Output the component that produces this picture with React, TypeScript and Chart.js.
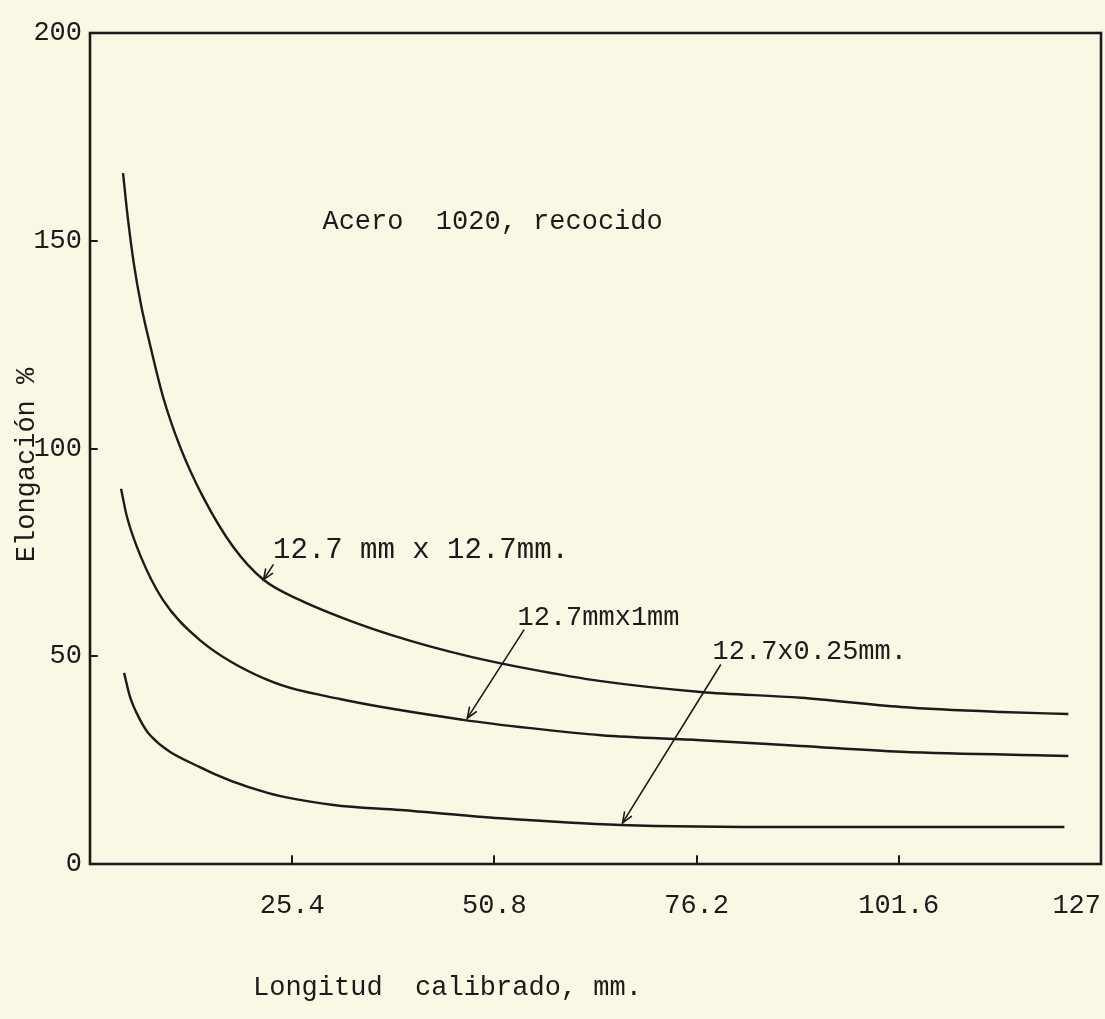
import React, { useEffect, useRef } from "react";
import { Chart, registerables } from "chart.js";

Chart.register(...registerables);

// ---------- data ----------
const xTickValues = [0, 25.4, 50.8, 76.2, 101.6, 127];
const xTickLabels = ["", "25.4", "50.8", "76.2", "101.6", "127"];
const yTickValues = [0, 50, 100, 150, 200];
const yTickLabels = ["0", "50", "100", "150", "200"];

const seriesNames = ["12.7 mm x 12.7mm.", "12.7mmx1mm", "12.7x0.25mm."];

// 12.7 mm x 12.7 mm
const xA = [4.15, 4.78, 5.53, 6.42, 7.55, 9.18, 11.32, 14.21, 18, 21.8, 26.4, 32.7, 38, 42.8, 48, 55.3, 64.2, 76.7, 89.3, 101.9, 114.5, 122.9];
const yA = [166.3, 155, 144.2, 134.5, 124.9, 112.4, 100.4, 88.3, 76.3, 68.4, 63.5, 58.5, 55, 52.3, 49.8, 46.9, 44, 41.4, 40, 37.8, 36.6, 36.1];
// 12.7 mm x 1 mm
const xB = [3.9, 4.65, 6.29, 9.18, 13.8, 22.3, 31.4, 46.9, 55.3, 64.2, 76.7, 89.3, 101.9, 122.9];
const yB = [90.3, 83.5, 74.4, 63.5, 53.9, 44.3, 39.7, 34.7, 32.7, 31, 29.8, 28.4, 27, 26];
// 12.7 x 0.25 mm
const xC = [4.28, 5.03, 6.29, 7.55, 13.8, 22.3, 30.6, 39, 51.6, 66.7, 89, 122.4];
const yC = [46, 40.2, 34.7, 31, 23.3, 17.1, 14.2, 13, 11, 9.4, 8.9, 8.9];

const chartNote = "Acero  1020, recocido";
const noteX = 29.2;
const noteY = 154.5;

// series label anchors (data coords) and arrows (tail -> tip)
const labelX = [23, 53.7, 78.2];
const labelY = [75.5, 59.2, 51];
const arrowTailX = [23, 54.5, 79.2];
const arrowTailY = [72, 56.3, 47.9];
const arrowTipX = [21.8, 47.4, 66.9];
const arrowTipY = [68.4, 35.1, 9.9];

const xTitle = "Longitud  calibrado, mm.";
const yTitle = "Elongación %";

// ---------- style ----------
const BG = "#faf7e4";
const INK = "#1b1b1b";
const FONT = "'Liberation Mono', 'DejaVu Sans Mono', monospace";

function toPts(xs: number[], ys: number[]) {
  return xs.map((x, i) => ({ x, y: ys[i] }));
}

const decorPlugin = {
  id: "decor",
  beforeDraw(chart: any) {
    const ctx = chart.ctx;
    ctx.save();
    ctx.fillStyle = BG;
    ctx.fillRect(0, 0, chart.width, chart.height);
    ctx.restore();
  },
  afterDraw(chart: any) {
    const { ctx, chartArea, scales } = chart;
    const xs = scales.x;
    const ys = scales.y;
    ctx.save();
    ctx.strokeStyle = INK;
    ctx.fillStyle = INK;
    ctx.lineCap = "round";
    // frame
    ctx.lineWidth = 2.6;
    ctx.strokeRect(chartArea.left, chartArea.top, chartArea.right - chartArea.left, chartArea.bottom - chartArea.top);
    // inward tick marks
    ctx.lineWidth = 2;
    xTickValues.forEach((v) => {
      if (v <= xs.min || v >= xs.max) return;
      const px = Math.round(xs.getPixelForValue(v));
      ctx.beginPath();
      ctx.moveTo(px, chartArea.bottom);
      ctx.lineTo(px, chartArea.bottom - 8);
      ctx.stroke();
    });
    yTickValues.forEach((v) => {
      if (v <= ys.min || v >= ys.max) return;
      const py = Math.round(ys.getPixelForValue(v));
      ctx.beginPath();
      ctx.moveTo(chartArea.left, py);
      ctx.lineTo(chartArea.left + 7, py);
      ctx.stroke();
    });

    // note
    ctx.font = `27px ${FONT}`;
    ctx.textAlign = "left";
    ctx.textBaseline = "middle";
    ctx.fillText(chartNote, xs.getPixelForValue(noteX), ys.getPixelForValue(noteY));

    // series labels
    seriesNames.forEach((name, i) => {
      ctx.font = `${i === 0 ? 29 : 27}px ${FONT}`;
      ctx.fillText(name, xs.getPixelForValue(labelX[i]), ys.getPixelForValue(labelY[i]));
    });

    // arrows
    ctx.lineWidth = 1.6;
    for (let i = 0; i < arrowTipX.length; i++) {
      const x1 = xs.getPixelForValue(arrowTailX[i]);
      const y1 = ys.getPixelForValue(arrowTailY[i]);
      const x2 = xs.getPixelForValue(arrowTipX[i]);
      const y2 = ys.getPixelForValue(arrowTipY[i]);
      ctx.beginPath();
      ctx.moveTo(x1, y1);
      ctx.lineTo(x2, y2);
      ctx.stroke();
      const ang = Math.atan2(y2 - y1, x2 - x1);
      const len = 11;
      const spread = 0.38;
      ctx.beginPath();
      ctx.moveTo(x2 - len * Math.cos(ang - spread), y2 - len * Math.sin(ang - spread));
      ctx.lineTo(x2, y2);
      ctx.lineTo(x2 - len * Math.cos(ang + spread), y2 - len * Math.sin(ang + spread));
      ctx.stroke();
    }

    // axis titles
    ctx.font = `27px ${FONT}`;
    ctx.textAlign = "left";
    ctx.textBaseline = "middle";
    ctx.fillText(xTitle, chartArea.left + 163, chartArea.bottom + 124);
    ctx.save();
    ctx.translate(27, chartArea.top + 432);
    ctx.rotate(-Math.PI / 2);
    ctx.textAlign = "center";
    ctx.fillText(yTitle, 0, 0);
    ctx.restore();

    ctx.restore();
  },
};

export default function App() {
  const ref = useRef<HTMLCanvasElement | null>(null);

  useEffect(() => {
    if (!ref.current) return;
    const lineStyle = {
      borderColor: INK,
      borderWidth: 2.4,
      pointRadius: 0,
      fill: false,
      cubicInterpolationMode: "monotone" as const,
    };
    const chart = new Chart(ref.current, {
      type: "line",
      data: {
        datasets: [
          { label: seriesNames[0], data: toPts(xA, yA), ...lineStyle },
          { label: seriesNames[1], data: toPts(xB, yB), ...lineStyle },
          { label: seriesNames[2], data: toPts(xC, yC), ...lineStyle },
        ],
      },
      options: {
        animation: false,
        responsive: true,
        maintainAspectRatio: false,
        layout: { padding: { top: 33, right: 4, left: 0, bottom: 0 } },
        plugins: {
          legend: { display: false },
          tooltip: { enabled: false },
        },
        scales: {
          x: {
            type: "linear",
            min: 0,
            max: 127,
            grid: { display: false, drawTicks: false },
            border: { display: false },
            afterBuildTicks: (scale: any) => {
              scale.ticks = xTickValues.map((v) => ({ value: v }));
            },
            afterFit: (scale: any) => {
              scale.height = 155;
              scale.paddingLeft = 0;
              scale.paddingRight = 0;
            },
            ticks: {
              align: "inner",
              autoSkip: false,
              maxRotation: 0,
              minRotation: 0,
              padding: 26,
              color: INK,
              font: { family: FONT, size: 27 },
              callback: (v: any) => {
                const i = xTickValues.indexOf(Number(v));
                return i >= 0 ? xTickLabels[i] : "";
              },
            },
          },
          y: {
            type: "linear",
            min: 0,
            max: 200,
            grid: { display: false, drawTicks: false },
            border: { display: false },
            afterBuildTicks: (scale: any) => {
              scale.ticks = yTickValues.map((v) => ({ value: v }));
            },
            afterFit: (scale: any) => {
              scale.width = 90;
              scale.paddingTop = 0;
              scale.paddingBottom = 0;
            },
            ticks: {
              autoSkip: false,
              padding: 8,
              color: INK,
              font: { family: FONT, size: 27 },
              callback: (v: any) => {
                const i = yTickValues.indexOf(Number(v));
                return i >= 0 ? yTickLabels[i] : "";
              },
            },
          },
        },
      },
      plugins: [decorPlugin],
    });
    return () => chart.destroy();
  }, []);

  return (
    <div style={{ position: "absolute", left: 0, top: 0, width: 1105, height: 1019, background: BG }}>
      <canvas ref={ref} />
    </div>
  );
}
